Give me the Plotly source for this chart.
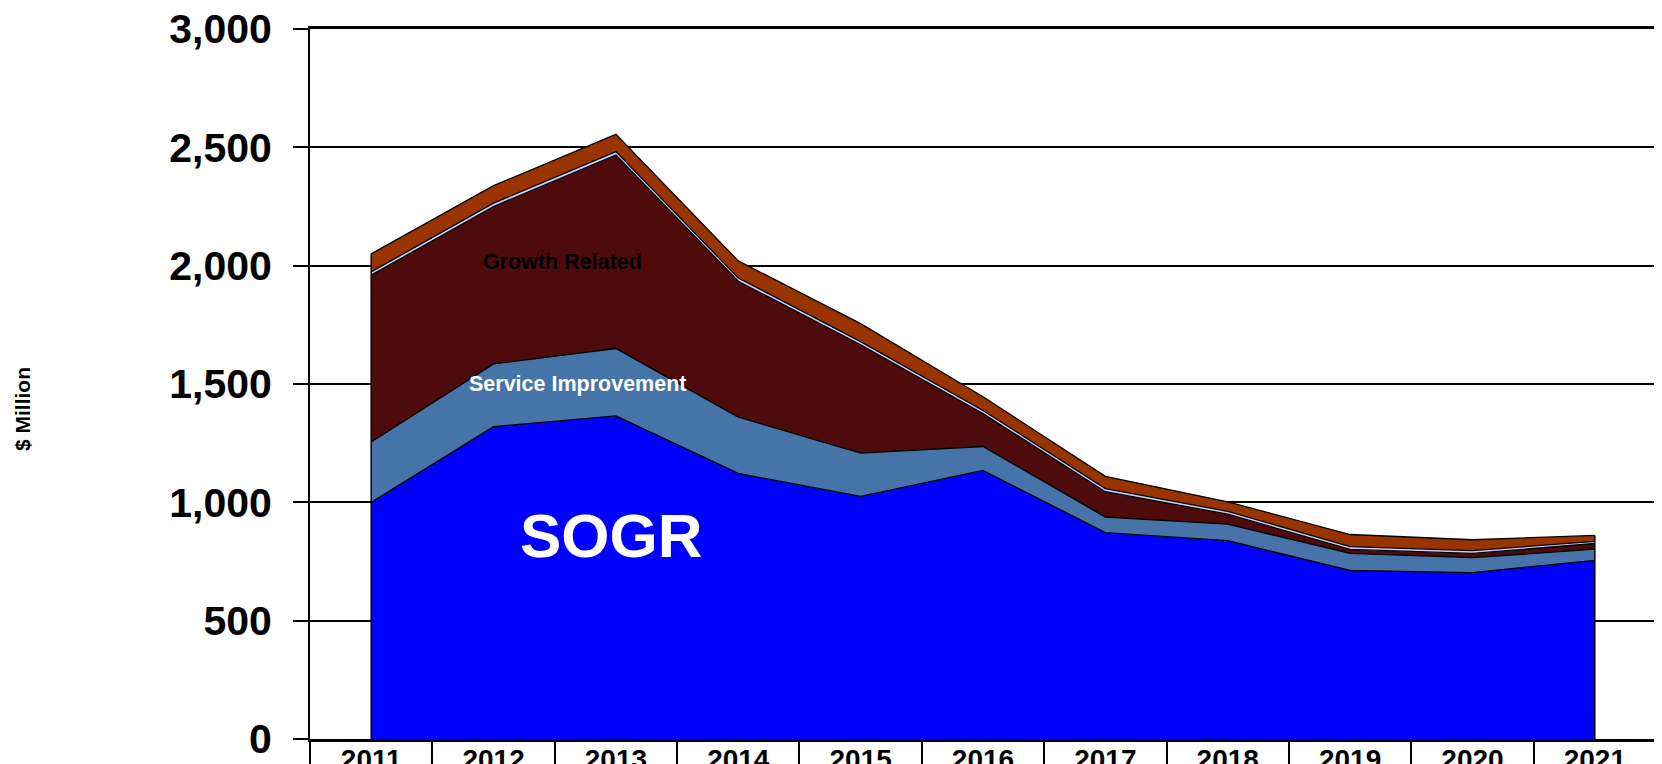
import plotly.graph_objects as go

years = ["2011", "2012", "2013", "2014", "2015", "2016", "2017", "2018", "2019", "2020", "2021"]
sogr = [1000, 1320, 1365, 1122, 1025, 1135, 872, 838, 712, 703, 755]
service_improvement = [255, 265, 285, 238, 183, 101, 66, 70, 72, 63, 47]
growth_related = [705, 665, 818, 574, 458, 139, 107, 42, 17, 18, 24]
other_small = [14, 14, 14, 14, 13, 13, 13, 12, 12, 12, 9]
other_top = [76, 74, 73, 72, 76, 58, 52, 40, 51, 46, 25]
y_ticks = [0, 500, 1000, 1500, 2000, 2500, 3000]

series = [
    ("SOGR", sogr, "#0000FF"),
    ("Service Improvement", service_improvement, "#4674A8"),
    ("Growth Related", growth_related, "#4D0B0B"),
    ("Other", other_small, "#CCCCFF"),
    ("Other 2", other_top, "#993300"),
]

fig = go.Figure()
for name, vals, col in series:
    fig.add_trace(go.Scatter(
        x=years, y=vals, name=name, stackgroup="one", mode="lines",
        line=dict(color="black", width=1.3), fillcolor=col,
        hoverinfo="skip", showlegend=False,
    ))

totals = [sum(v) for v in zip(*[s[1] for s in series])]
fig.add_trace(go.Scatter(
    x=[years[0], years[0], None, years[-1], years[-1]],
    y=[0, totals[0], None, 0, totals[-1]],
    mode="lines", line=dict(color="black", width=1.5),
    hoverinfo="skip", showlegend=False,
))

sans = "Liberation Sans, Arial, sans-serif"
L, R, T, B = 302, 14, 21, 33
W, H = 1662, 764
plot_w = W - L - R
plot_h = H - T - B

fig.update_layout(
    width=W, height=H,
    margin=dict(l=L, r=R, t=T, b=B),
    paper_bgcolor="white", plot_bgcolor="white",
    xaxis=dict(
        type="category", categoryorder="array", categoryarray=years,
        range=[-0.5, len(years) - 0.5], automargin=False,
        tickson="boundaries", ticks="outside", ticklen=34, tickwidth=2, tickcolor="black",
        showline=True, linecolor="black", linewidth=2.5, mirror=True,
        showgrid=False,
        tickfont=dict(family=sans, size=28, color="black", weight="bold"),
        ticklabelstandoff=-6, ticklabeloverflow="allow",
    ),
    yaxis=dict(
        range=[0, 3000], tickvals=y_ticks, tickformat=",d", automargin=False,
        ticks="outside", ticklen=15, tickwidth=2, tickcolor="black",
        showline=True, linecolor="black", linewidth=2,
        showgrid=True, gridcolor="black", gridwidth=2,
        zeroline=False,
        tickfont=dict(family=sans, size=41, color="black", weight="bold"),
        ticklabelstandoff=13, ticklabeloverflow="allow",
    ),
    annotations=[
        dict(x=1.56, y=2014, xref="x", yref="y", text="Growth Related", showarrow=False,
             font=dict(family=sans, size=21.5, color="black", weight="bold")),
        dict(x=1.69, y=1502, xref="x", yref="y", text="Service Improvement", showarrow=False,
             font=dict(family=sans, size=21.5, color="white", weight="bold")),
        dict(x=1.96, y=860, xref="x", yref="y", text="SOGR", showarrow=False,
             font=dict(family=sans, size=62, color="white", weight="bold")),
        dict(x=(15 - L) / plot_w, y=(H - B - 401) / plot_h, xref="paper", yref="paper",
             xanchor="center", yanchor="middle",
             text="$ Million", showarrow=False, textangle=-90,
             font=dict(family=sans, size=21, color="black", weight="bold")),
    ],
)

fig.write_html("out.html")
